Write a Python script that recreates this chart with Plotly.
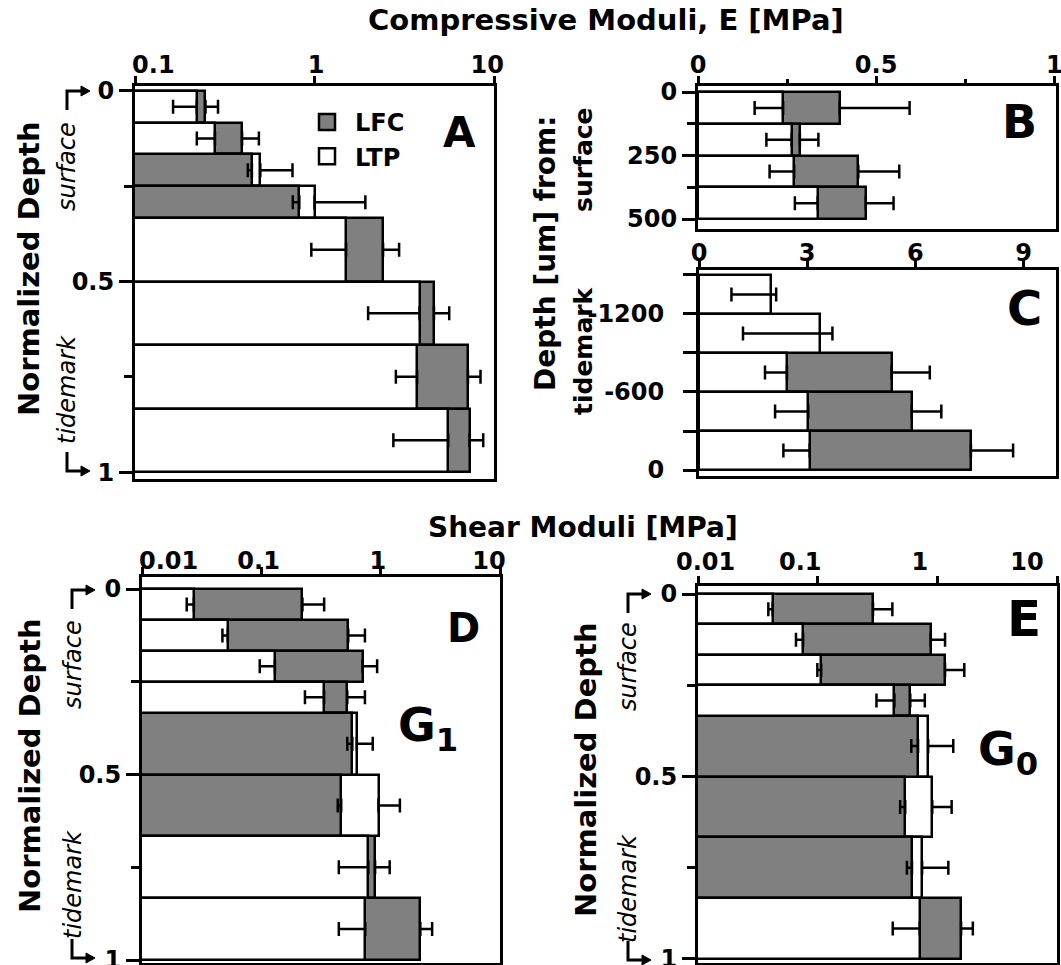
import plotly.graph_objects as go

W, H = 1061, 965

# ---------------- depth bins ----------------
norm_depth_mid = [1/24, 3/24, 5/24, 7/24, 5/12, 7/12, 9/12, 11/12]
norm_depth_width = [1/12] * 4 + [1/6] * 4
surf_depth_mid = [62.5, 187.5, 312.5, 437.5]
surf_depth_width = [125] * 4
tide_depth_mid = [-1350, -1050, -750, -450, -150]
tide_depth_width = [300] * 5

# ---------------- A: compressive modulus E [MPa] vs normalized depth ----------------
a_lfc = [0.247, 0.395, 0.448, 0.823, 2.41, 4.63, 7.16, 7.31]
a_lfc_lo = [0, 0, 0.023, 0.066, 0, 0, 0, 0]
a_lfc_hi = [0.043, 0.095, 0, 0, 0.55, 1.0, 1.25, 1.4]
a_ltp = [0.221, 0.279, 0.499, 1.0, 1.50, 3.85, 3.73, 5.56]
a_ltp_lo = [0.058, 0.058, 0, 0, 0.54, 1.86, 0.89, 2.81]
a_ltp_hi = [0, 0, 0.255, 0.92, 0, 0, 0, 0]

# ---------------- B: E [MPa] vs depth from surface [um] ----------------
b_lfc = [0.398, 0.286, 0.45, 0.471]
b_lfc_lo = [0, 0, 0, 0]
b_lfc_hi = [0.196, 0.052, 0.115, 0.078]
b_ltp = [0.239, 0.263, 0.27, 0.336]
b_ltp_lo = [0.08, 0.071, 0.069, 0.064]
b_ltp_hi = [0, 0, 0, 0]

# ---------------- C: E [MPa] vs depth from tidemark [um] ----------------
c_lfc = [None, None, 5.34, 5.9, 7.54]
c_lfc_lo = [0, 0, 0, 0, 0]
c_lfc_hi = [0, 0, 1.06, 0.82, 1.17]
c_ltp = [2.0, 3.35, 2.44, 3.03, 3.07]
c_ltp_lo = [1.1, 2.13, 0.61, 0.92, 0.73]
c_ltp_hi = [0.14, 0.35, 0, 0, 0]

# ---------------- D: shear modulus G1 [MPa] vs normalized depth ----------------
d_lfc = [0.221, 0.535, 0.705, 0.525, 0.579, 0.467, 0.898, 2.15]
d_lfc_lo = [0, 0, 0, 0, 0.054, 0.030, 0, 0]
d_lfc_hi = [0.115, 0.203, 0.229, 0.213, 0, 0, 0.292, 0.55]
d_ltp = [0.0272, 0.0524, 0.130, 0.336, 0.631, 0.959, 0.788, 0.743]
d_ltp_lo = [0.0035, 0.0052, 0.033, 0.104, 0, 0, 0.342, 0.297]
d_ltp_hi = [0, 0, 0, 0, 0.227, 0.49, 0, 0]

# ---------------- E: shear modulus G0 [MPa] vs normalized depth ----------------
e_lfc = [0.29, 0.878, 1.16, 0.594, 0.69, 0.539, 0.614, 1.58]
e_lfc_lo = [0, 0, 0, 0, 0.084, 0.05, 0.057, 0]
e_lfc_hi = [0.131, 0.282, 0.52, 0.192, 0, 0, 0, 0.40]
e_ltp = [0.0421, 0.0756, 0.107, 0.438, 0.839, 0.907, 0.746, 0.713]
e_ltp_lo = [0.0034, 0.0097, 0.0076, 0.128, 0, 0, 0, 0.289]
e_ltp_hi = [0, 0, 0, 0, 0.52, 0.41, 0.49, 0]

GRAY = "#808080"
FONT = "DejaVu Sans"
NB = "\u00a0"


def px(x):
    return x / W


def py(y):
    return 1 - y / H


fig = go.Figure()


def add_panel(xa, ya, depth, width, lfc, lfc_lo, lfc_hi, ltp, ltp_lo, ltp_hi):
    """Overlaid LFC/LTP bars: the longer bar of each bin sits behind the shorter one."""
    def longer(v, other):
        return [a if a is not None and (b is None or a >= b) else None for a, b in zip(v, other)]

    def shorter(v, other):
        return [a if a is not None and b is not None and a < b else None for a, b in zip(v, other)]

    layers = [
        ("LFC", longer(lfc, ltp), GRAY, lfc_lo, lfc_hi),
        ("LTP", longer(ltp, lfc), "white", ltp_lo, ltp_hi),
        ("LFC", shorter(lfc, ltp), GRAY, lfc_lo, lfc_hi),
        ("LTP", shorter(ltp, lfc), "white", ltp_lo, ltp_hi),
    ]
    for name, vals, color, lo, hi in layers:
        fig.add_trace(go.Bar(
            x=vals, y=depth, width=width, orientation="h",
            name=name, legendgroup=name, showlegend=False,
            marker=dict(color=color, line=dict(color="black", width=2.5)),
            error_x=dict(type="data", symmetric=False, array=hi, arrayminus=lo,
                         color="black", thickness=2.5, width=7),
            xaxis=xa, yaxis=ya,
        ))


add_panel("x", "y", norm_depth_mid, norm_depth_width,
          a_lfc, a_lfc_lo, a_lfc_hi, a_ltp, a_ltp_lo, a_ltp_hi)
add_panel("x2", "y2", surf_depth_mid, surf_depth_width,
          b_lfc, b_lfc_lo, b_lfc_hi, b_ltp, b_ltp_lo, b_ltp_hi)
add_panel("x3", "y3", tide_depth_mid, tide_depth_width,
          c_lfc, c_lfc_lo, c_lfc_hi, c_ltp, c_ltp_lo, c_ltp_hi)
add_panel("x4", "y4", norm_depth_mid, norm_depth_width,
          d_lfc, d_lfc_lo, d_lfc_hi, d_ltp, d_ltp_lo, d_ltp_hi)
add_panel("x5", "y5", norm_depth_mid, norm_depth_width,
          e_lfc, e_lfc_lo, e_lfc_hi, e_ltp, e_ltp_lo, e_ltp_hi)

# legend keys (square swatches) for the two tissue groups
for name, color in [("LFC", GRAY), ("LTP", "white")]:
    fig.add_trace(go.Scatter(
        x=[None], y=[None], mode="markers", name=name, legendgroup=name,
        marker=dict(symbol="square", size=19, color=color,
                    line=dict(color="black", width=2.5)),
        xaxis="x", yaxis="y",
    ))

tickfont = dict(family=FONT, size=24, color="black", weight="bold")
axis_common = dict(showline=True, linewidth=3, linecolor="black", mirror=True,
                   showgrid=False, zeroline=False, ticks="outside", tickwidth=3,
                   tickcolor="black", tickfont=tickfont, fixedrange=True,
                   ticklabeloverflow="allow")


def xaxis(x0, x1, anchor, **kw):
    d = dict(axis_common)
    d.update(domain=[px(x0), px(x1)], anchor=anchor, side="top", ticklen=7)
    d.update(kw)
    return d


def yaxis(y0, y1, anchor, **kw):
    d = dict(axis_common)
    d.update(domain=[py(y1), py(y0)], anchor=anchor, ticklen=13)
    d.update(kw)
    return d


def minor(vals, length):
    return dict(tickvals=vals, ticks="outside", ticklen=length, tickwidth=3, tickcolor="black")


fig.update_layout(
    width=W, height=H,
    margin=dict(l=0, r=0, t=0, b=0, autoexpand=False),
    paper_bgcolor="white", plot_bgcolor="white",
    barmode="overlay",
    bargap=0,
    # A
    xaxis=xaxis(135, 494, "y", type="log", range=[-1, 1], ticklabelstandoff=-7,
                ticklabelshift=10, tickvals=[0.1, 1, 10],
                ticktext=[NB * 2 + "0.1", "1" + NB * 2, "10" + NB * 4]),
    yaxis=yaxis(86, 479, "x", range=[1.018, -0.013], tickvals=[0, 0.5, 1],
                ticktext=["0", "0.5", "1"], minor=minor([0.25, 0.75], 8)),
    # B
    xaxis2=xaxis(698, 1056, "y2", range=[0, 1.005], ticklabelstandoff=-7,
                 tickvals=[0, 0.5, 1], ticktext=["0", "0.5", "1"],
                 minor=minor([0.25, 0.75], 4)),
    yaxis2=yaxis(86, 229, "x2", range=[539, -23.6], tickvals=[0, 250, 500],
                 ticktext=["0", "250", "500"], minor=minor([125, 375], 8)),
    # C
    xaxis3=xaxis(699, 1056, "y3", range=[0, 9.9], ticklabelstandoff=-11,
                 tickvals=[0, 3, 6, 9], ticktext=["0", "3", "6", "9"]),
    yaxis3=yaxis(270, 476, "x3", range=[46, -1538], ticklabelstandoff=14,
                 tickvals=[-1200, -600, 0], ticktext=["-1200", "-600", "0"],
                 minor=minor([-1500, -900, -300], 13)),
    # D
    xaxis4=xaxis(142, 500, "y4", type="log", range=[-2, 1], ticklabelstandoff=-12,
                 ticklabelshift=14, tickvals=[0.01, 0.1, 1, 10],
                 ticktext=[NB * 3 + "0.01", "0.1" + NB * 4, "1" + NB * 4, "10" + NB * 6]),
    yaxis4=yaxis(577, 963, "x4", range=[1.008, -0.0325], tickvals=[0, 0.5, 1],
                 ticktext=["0", "0.5", "1"], minor=minor([0.25, 0.75], 8)),
    # E
    xaxis5=xaxis(698, 1057, "y5", type="log", range=[-2, 1], ticklabelstandoff=-4,
                 tickvals=[0.01, 0.1, 1, 10], ticklabelshift=-30,
                 ticktext=[NB * 9 + "0.01", NB * 3 + "0.1", NB * 3 + "1", "10"]),
    yaxis5=yaxis(586, 963, "x5", range=[1.011, -0.022], tickvals=[0, 0.5, 1],
                 ticktext=["0", "0.5", "1"], minor=minor([0.25, 0.75], 8)),
    legend=dict(x=px(299), y=py(100), xanchor="left", yanchor="top",
                bgcolor="rgba(0,0,0,0)", borderwidth=0, itemwidth=46,
                itemsizing="trace",
                font=dict(family=FONT, size=24, color="black", weight="bold"),
                tracegroupgap=0, itemclick=False, itemdoubleclick=False),
    showlegend=True,
)


def label(text, x, y, size, angle=0, italic=False, bold=True):
    fig.add_annotation(
        text=text, x=px(x), y=py(y), xref="paper", yref="paper",
        xanchor="center", yanchor="middle", showarrow=False, textangle=angle,
        font=dict(family=FONT, size=size, color="black",
                  weight="bold" if bold else "normal",
                  style="italic" if italic else "normal"),
    )


# axis titles
label("Compressive Moduli, E [MPa]", 606, 20, 29)
label("Shear Moduli [MPa]", 583, 527, 28)
label("Normalized Depth", 29, 269, 29, angle=-90)
label("Normalized Depth", 30, 766, 29, angle=-90)
label("Normalized Depth", 586, 770, 29, angle=-90)
label("Depth [um] from:", 545, 254, 28, angle=-90)
label("surface", 583, 160, 25, angle=-90)
label("tidemark", 583, 351, 25, angle=-90)

# zone labels beside the normalized-depth axes
for xz, ys, yt in [(67, 167, 390), (73, 665, 885), (628, 667, 889)]:
    label("surface", xz, ys, 24, angle=-90, italic=True, bold=False)
    label("tidemark", xz, yt, 24, angle=-90, italic=True, bold=False)

# panel letters
label("A", 459, 133, 42)
label("B", 1019, 122, 46)
label("C", 1024, 308, 48)
label("D", 463, 628, 40)
label("E", 1024, 619, 50)
label("G<sub>1</sub>", 428, 728, 46)
label("G<sub>0</sub>", 1008, 752, 46)


# bent arrows marking the surface (0) and tidemark (1) ends of the depth axes
def bent_arrow(x, y_from, y_to, x_tip):
    head = 9
    fig.add_shape(type="path", xref="paper", yref="paper",
                  path=f"M {px(x)},{py(y_from)} L {px(x)},{py(y_to)} L {px(x_tip - head)},{py(y_to)}",
                  line=dict(color="black", width=3))
    fig.add_shape(type="path", xref="paper", yref="paper",
                  path=(f"M {px(x_tip)},{py(y_to)} L {px(x_tip - head)},{py(y_to - 5)} "
                        f"L {px(x_tip - head)},{py(y_to + 5)} Z"),
                  fillcolor="black", line=dict(color="black", width=1))


for xa, top, bot in [(67, 91, 471), (72, 590, 958), (628, 594, 960)]:
    bent_arrow(xa, top + 19, top, xa + 23)
    bent_arrow(xa, bot - 19, bot, xa + 23)

fig.write_html("out.html")
